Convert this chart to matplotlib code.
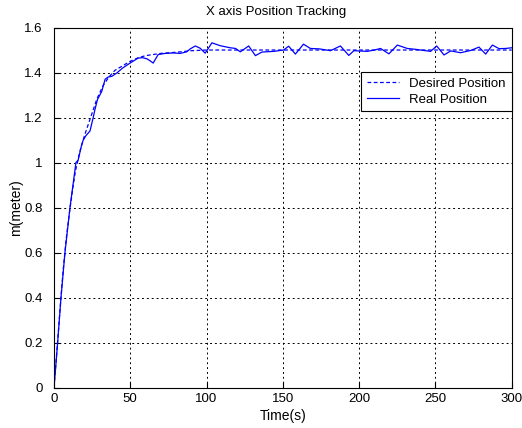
import matplotlib
matplotlib.use("Agg")
import matplotlib.pyplot as plt

plt.rcParams['font.family'] = ['Liberation Sans', 'DejaVu Sans']

# desired trajectory
t_des = [0, 2, 4, 6, 8, 10, 12, 14, 17, 20, 24, 28, 32, 36, 40, 45, 50, 55,
         60, 65, 70, 80, 90, 100, 300]
x_des = [0, 0.17, 0.35, 0.52, 0.66, 0.77, 0.87, 0.96, 1.05, 1.12, 1.20, 1.28,
         1.34, 1.38, 1.41, 1.43, 1.45, 1.465, 1.475, 1.48, 1.485, 1.49, 1.497,
         1.5, 1.5]

# measured position
t_real = [0, 1, 2.4, 4.6, 7.2, 10.5, 14.4, 15.8, 18.2, 19.2, 21, 23.6, 25.6,
          26.9, 28.5, 31.3, 33.5, 35.5, 37.9, 41.2, 45, 49.9, 55.1, 58, 60.9,
          63, 65, 68.3, 72.9, 78, 82.7, 87, 89.3, 92.6, 95.8, 99.1, 103.5,
          109, 115.5, 119, 122.1, 127.6, 132, 136.3, 144, 150.5, 153.8, 158.2,
          163.5, 168, 174, 181.2, 187.7, 193.2, 196.5, 205.3, 210, 214, 219.5,
          225, 231.5, 237, 242.4, 246.8, 250.8, 255.6, 260, 266.5, 273.1,
          278.5, 282.9, 287.3, 291.7, 296, 300]
x_real = [0, 0.08, 0.2, 0.40, 0.6, 0.8, 1.0, 1.01, 1.08, 1.10, 1.12, 1.14,
          1.197, 1.237, 1.28, 1.316, 1.37, 1.38, 1.383, 1.398, 1.42, 1.442,
          1.464, 1.466, 1.461, 1.452, 1.442, 1.48, 1.485, 1.487, 1.485, 1.492,
          1.505, 1.518, 1.508, 1.486, 1.532, 1.519, 1.510, 1.507, 1.492,
          1.518, 1.475, 1.491, 1.494, 1.5, 1.517, 1.482, 1.526, 1.507, 1.505,
          1.497, 1.518, 1.476, 1.497, 1.494, 1.500, 1.507, 1.483, 1.522,
          1.507, 1.503, 1.498, 1.494, 1.518, 1.478, 1.496, 1.488, 1.498,
          1.513, 1.482, 1.522, 1.506, 1.507, 1.51]

xticks = [0, 50, 100, 150, 200, 250, 300]
yticks = [0, 0.2, 0.4, 0.6, 0.8, 1, 1.2, 1.4, 1.6]
ytick_labels = ['0', '0.2', '0.4', '0.6', '0.8', '1', '1.2', '1.4', '1.6']

fig = plt.figure(figsize=(5.22, 4.28), dpi=100)
ax = fig.add_axes([0.1034, 0.0946, 0.877, 0.8411])

ax.plot(t_des, x_des, color='blue', linestyle=(0, (3, 2)), linewidth=0.9,
        label='Desired Position')
ax.plot(t_real, x_real, color='blue', linewidth=0.9, label='Real Position')

ax.set_xlim(0, 300)
ax.set_ylim(0, 1.6)
ax.set_xticks(xticks)
ax.set_yticks(yticks)
ax.set_yticklabels(ytick_labels)
ax.tick_params(direction='in', length=4, labelsize=9.5, color='black')
ax.tick_params(axis='y', pad=8)
ax.tick_params(axis='x', pad=4)
ax.grid(True, color='black', linestyle=(0, (2, 3)), linewidth=0.7)
for s in ax.spines.values():
    s.set_linewidth(0.8)

ax.set_title('X axis Position Tracking', fontsize=9.5, pad=9, x=0.485)
ax.set_xlabel('Time(s)', fontsize=10, labelpad=3)
ax.set_ylabel('m(meter)', fontsize=10, labelpad=1)

leg = ax.legend(loc='upper right', bbox_to_anchor=(1.0, 0.877), fontsize=9.5,
                fancybox=False, framealpha=1, edgecolor='black',
                borderaxespad=0, handlelength=2.4, borderpad=0.45,
                labelspacing=0.25)
leg.get_frame().set_linewidth(0.8)

fig.savefig('out.png', dpi=100)
